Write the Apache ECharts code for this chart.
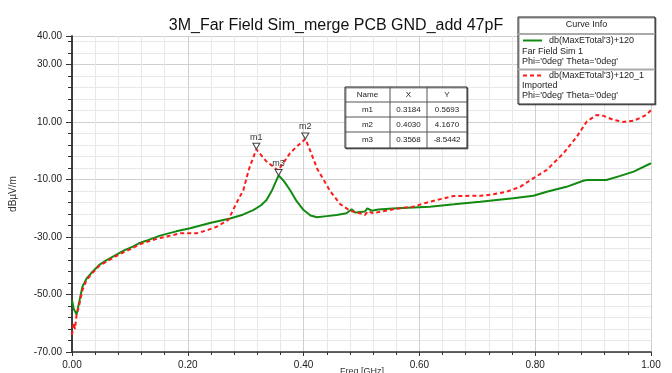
<!DOCTYPE html>
<html><head><meta charset="utf-8">
<script src="https://cdn.jsdelivr.net/npm/echarts@6/dist/echarts.min.js"></script>
<style>html,body{margin:0;padding:0;background:#fff}#c{width:672px;height:373px}</style>
</head><body><div id="c"></div>
<script>
const titleText = '3M_Far Field Sim_merge PCB GND_add 47pF';
const xName = 'Freq [GHz]';
const yName = 'dBµV/m';
const greenName = "db(MaxETotal'3)+120";
const redName = "db(MaxETotal'3)+120_1";
const greenSub = ['Far Field Sim 1', "Phi='0deg' Theta='0deg'"];
const redSub = ['Imported', "Phi='0deg' Theta='0deg'"];

const greenFreq = [0.000,0.003,0.008,0.012,0.018,0.025,0.033,0.047,0.060,0.076,0.090,0.105,0.117,0.128,0.152,0.180,0.204,0.240,0.273,0.295,0.313,0.326,0.336,0.346,0.3568,0.366,0.3765,0.388,0.400,0.412,0.423,0.440,0.457,0.474,0.483,0.489,0.506,0.510,0.518,0.529,0.561,0.618,0.660,0.705,0.762,0.797,0.820,0.854,0.883,0.890,0.923,0.947,0.970,1.000];
const greenVal  = [-52,-55,-57,-53,-47.3,-44.5,-42.6,-39.7,-38,-36.2,-34.6,-33.3,-32,-31.3,-29.5,-28.0,-26.9,-25.0,-23.5,-22.2,-20.6,-19.0,-17.1,-13.5,-8.54,-10.5,-13.6,-17.5,-20.6,-22.5,-23.1,-22.7,-22.3,-21.7,-20.3,-21.4,-21.1,-20.0,-20.8,-20.4,-20.0,-19.4,-18.6,-17.7,-16.5,-15.6,-14.2,-12.5,-10.4,-10.1,-10.1,-8.7,-7.2,-4.3];

const redFreq = [0.000,0.003,0.005,0.008,0.012,0.018,0.025,0.033,0.047,0.076,0.105,0.117,0.146,0.187,0.215,0.235,0.250,0.270,0.284,0.296,0.302,0.307,0.3184,0.335,0.356,0.3765,0.388,0.403,0.411,0.423,0.428,0.446,0.463,0.480,0.497,0.506,0.511,0.520,0.555,0.589,0.618,0.659,0.705,0.722,0.751,0.774,0.797,0.820,0.849,0.872,0.889,0.906,0.918,0.935,0.952,0.970,0.992,1.000];
const redVal  = [-64,-60,-62,-57,-54,-48.5,-45,-43,-40,-36.6,-33.8,-32.5,-30.6,-28.7,-28.7,-27.5,-26.4,-24,-18.2,-13.6,-9,-5.5,0.57,-3.5,-6.8,-0.8,1.5,4.17,0.3,-6.0,-7.8,-14,-18.5,-20.8,-21.7,-22.3,-21,-21.7,-20.3,-19.4,-17.7,-15.7,-15.6,-15.3,-14.2,-12.5,-9.5,-6.6,-0.8,5.0,10.2,12.5,12.2,10.8,10.1,10.5,12.5,14.2];

const markerNames = ['m1','m2','m3'];
const markerX = [0.3184, 0.4030, 0.3568];
const markerY = [0.5693, 4.1670, -8.5442];
const markerCurve = ['red','red','green'];

const xMin = 0, xMax = 1, xStep = 0.2;
const yMin = -70, yMax = 40, yStep = 20;

const greenColor = '#128a12';
const redColor = '#ff1a1a';

function pairs(f, v){ return f.map((x,i)=>[x, v[i]]); }
function marks(curve){
  return markerNames.map((n,i)=>({name:n, coord:[markerX[i], markerY[i]], curve:markerCurve[i]}))
    .filter(m=>m.curve===curve).map(m=>({name:m.name, coord:m.coord}));
}
const markPointStyle = {
  symbol:'triangle', symbolRotate:180, symbolSize:[7,6], symbolOffset:[0,-3],
  itemStyle:{color:'#fff', borderColor:'#444', borderWidth:1},
  label:{show:true, position:'top', distance:1, formatter:'{b}', fontSize:9, color:'#333', fontFamily:'Arial'},
  animation:false
};

const ZG = 100;
// marker table
const tx = 345, ty = 87, colW = [45, 37, 40], rowH = [15, 15, 15, 16];
const tableChildren = [];
const totalW = colW.reduce((a,b)=>a+b,0), totalH = rowH.reduce((a,b)=>a+b,0);
tableChildren.push({type:'rect', z:ZG, shape:{x:tx, y:ty, width:totalW, height:totalH},
  style:{fill:'#fff', stroke:'#222', lineWidth:1, shadowColor:'rgba(0,0,0,0.45)', shadowOffsetX:1, shadowOffsetY:1}});
const rows = [['Name','X','Y']].concat(markerNames.map((n,i)=>[n, markerX[i].toFixed(4), markerY[i].toFixed(4)]));
let yy = ty;
rows.forEach((r,ri)=>{
  let xx = tx;
  r.forEach((c,ci)=>{
    tableChildren.push({type:'text', z:ZG+2, style:{text:c, x:xx+colW[ci]/2, y:yy+rowH[ri]/2, align:'center', verticalAlign:'middle', fontSize:8, fontFamily:'Arial', fill:'#222'}});
    xx += colW[ci];
  });
  yy += rowH[ri];
  if (ri < rows.length-1) tableChildren.push({type:'line', z:ZG+1, shape:{x1:tx, y1:yy, x2:tx+totalW, y2:yy}, style:{stroke:'#555', lineWidth:1}});
});
let cx = tx;
for (let i=0;i<colW.length-1;i++){ cx += colW[i]; tableChildren.push({type:'line', z:ZG+1, shape:{x1:cx, y1:ty, x2:cx, y2:ty+totalH}, style:{stroke:'#555', lineWidth:1}}); }

// legend box
const lx = 518, ly = 17, lw = 137, lh = 87;
const txtStyle = {fontSize:9, fontFamily:'Arial', fill:'#222', verticalAlign:'middle'};
const legendChildren = [
  {type:'rect', z:ZG, shape:{x:lx, y:ly, width:lw, height:lh}, style:{fill:'#fff', stroke:'#222', lineWidth:1, shadowColor:'rgba(0,0,0,0.45)', shadowOffsetX:1, shadowOffsetY:1}},
  {type:'text', z:ZG+2, style:Object.assign({}, txtStyle, {text:'Curve Info', x:lx+lw/2, y:25, align:'center'})},
  {type:'line', z:ZG+1, shape:{x1:lx, y1:34, x2:lx+lw, y2:34}, style:{stroke:'#aaa', lineWidth:2}},
  {type:'line', z:ZG+1, shape:{x1:523, y1:40.5, x2:542, y2:40.5}, style:{stroke:greenColor, lineWidth:2}},
  {type:'text', z:ZG+2, style:Object.assign({}, txtStyle, {text:greenName, x:549, y:40.5})},
  {type:'text', z:ZG+2, style:Object.assign({}, txtStyle, {text:greenSub[0], x:522, y:51.5})},
  {type:'text', z:ZG+2, style:Object.assign({}, txtStyle, {text:greenSub[1], x:522, y:62})},
  {type:'line', z:ZG+1, shape:{x1:lx, y1:69.5, x2:lx+lw, y2:69.5}, style:{stroke:'#aaa', lineWidth:2}},
  {type:'line', z:ZG+1, shape:{x1:523, y1:75.5, x2:542, y2:75.5}, style:{stroke:redColor, lineWidth:2, lineDash:[4,3]}},
  {type:'text', z:ZG+2, style:Object.assign({}, txtStyle, {text:redName, x:549, y:75.5})},
  {type:'text', z:ZG+2, style:Object.assign({}, txtStyle, {text:redSub[0], x:522, y:86})},
  {type:'text', z:ZG+2, style:Object.assign({}, txtStyle, {text:redSub[1], x:522, y:96})}
];

const chart = echarts.init(document.getElementById('c'), null, {renderer:'canvas'});
chart.setOption({
  animation:false,
  backgroundColor:'#fff',
  title:{text:titleText, left:'center', top:13, textStyle:{fontSize:16, fontWeight:'normal', fontFamily:'Arial', color:'#111'}},
  grid:{left:72, right:21, top:36, bottom:21, containLabel:false, outerBoundsMode:'none'},
  xAxis:{type:'value', min:xMin, max:xMax, interval:xStep,
    axisLine:{onZero:false, lineStyle:{color:'#333', width:1.5}},
    axisTick:{show:true, inside:false, length:4, lineStyle:{color:'#333'}},
    minorTick:{show:true, splitNumber:5, length:3, lineStyle:{color:'#333'}},
    axisLabel:{formatter:v=>v.toFixed(2), fontSize:10, fontFamily:'Arial', color:'#222', margin:8},
    splitLine:{show:true, lineStyle:{color:'#cfcfcf', width:1}},
    minorSplitLine:{show:true, lineStyle:{color:'#e8e8e8', width:1}}
  },
  yAxis:[{type:'value', min:yMin, max:yMax, interval:yStep,
    name:yName, nameLocation:'middle', nameGap:54, nameRotate:90, nameTextStyle:{fontSize:10, fontFamily:'Arial', color:'#333'},
    axisLine:{show:true, onZero:false, lineStyle:{color:'#333', width:1.5}},
    axisTick:{show:true, length:6, lineStyle:{color:'#333'}},
    minorTick:{show:true, splitNumber:5, length:4, lineStyle:{color:'#333'}},
    axisLabel:{formatter:v=>v.toFixed(2), fontSize:10, fontFamily:'Arial', color:'#222', margin:10, showMaxLabel:true},
    splitLine:{show:true, lineStyle:{color:'#cfcfcf', width:1}},
    minorSplitLine:{show:true, lineStyle:{color:'#e8e8e8', width:1}}
  },{type:'value', min:yMin, max:yMax, interval:yStep, position:'right',
    axisLine:{show:true, lineStyle:{color:'#333', width:1.5}}, axisTick:{show:false}, axisLabel:{show:false}, splitLine:{show:false}}],
  series:[
    {name:greenName, type:'line', data:pairs(greenFreq, greenVal), showSymbol:false, symbol:'none',
      lineStyle:{color:greenColor, width:2}, itemStyle:{color:greenColor},
      markPoint:Object.assign({data:marks('green')}, markPointStyle), z:2},
    {name:redName, type:'line', data:pairs(redFreq, redVal), showSymbol:false, symbol:'none',
      lineStyle:{color:redColor, width:2, type:[4,3]}, itemStyle:{color:redColor},
      markPoint:Object.assign({data:marks('red')}, markPointStyle), z:3}
  ],
  graphic:[
    {type:'group', children:tableChildren, z:ZG},
    {type:'group', children:legendChildren, z:ZG},
    {type:'text', z:ZG, style:{text:xName, x:362, y:367, align:'center', verticalAlign:'top', fontSize:9, fontFamily:'Arial', fill:'#333'}}
  ]
});
</script></body></html>
